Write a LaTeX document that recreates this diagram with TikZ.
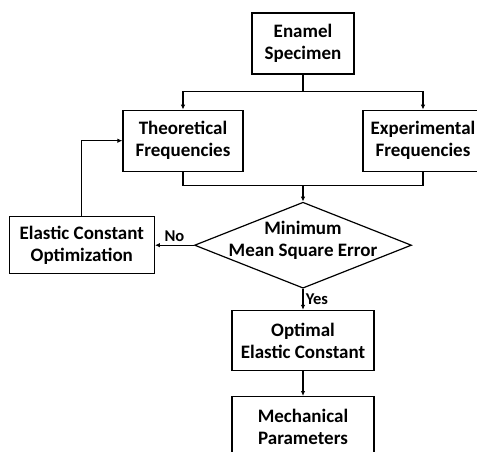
\documentclass[tikz,border=0pt]{standalone}
\usepackage{fontspec}
\setmainfont{Carlito}
\usetikzlibrary{positioning,arrows.meta,shapes.geometric,calc}
\tikzset{
  >={Latex[length=5pt,width=4.5pt]},
  block/.style={draw,line width=1.2pt,rectangle,align=center,inner sep=0pt,
    minimum width=120pt,minimum height=61pt},
  decision/.style={draw,line width=1.2pt,diamond,aspect=2.52,inner sep=0pt,
    minimum width=217pt,minimum height=86pt},
  connect/.style={line width=1.1pt},
  connect arrow/.style={->,line width=1.1pt},
  tag/.style={font=\fontsize{16.5}{19}\selectfont\bfseries}
}

\begin{document}
\begin{tikzpicture}[font=\fontsize{19}{22}\selectfont\bfseries]
  \useasboundingbox (0,0) rectangle (477pt,-451pt);

  % Specimen and the two frequency sets
  \node[block, minimum width=102pt] (spec) at (303pt,-43.5pt) {Enamel\\Specimen};
  \node[block, below=35pt of spec, xshift=-120pt] (theo) {Theoretical\\Frequencies};
  \node[block, below=35pt of spec, xshift=120pt] (expt) {Experimental\\Frequencies};

  % Error check
  \node[decision, below=127pt of spec] (mmse) {};
  \node[align=center, yshift=5pt] (mmsetxt) at (mmse) {Minimum\\Mean Square Error};

  % Optimization loop and results
  \node[block, minimum width=145pt, minimum height=57pt, left=39pt of mmse] (eco) {Elastic Constant\\Optimization};
  \node[block, minimum width=142pt, minimum height=60pt, below=21pt of mmse] (opt) {Optimal\\Elastic Constant};
  \node[block, minimum width=142pt, minimum height=60pt, below=25pt of opt] (mech) {Mechanical\\Parameters};

  % Specimen -> frequencies
  \coordinate (split) at ($(spec.south)+(0,-17pt)$);
  \draw[connect] (spec.south) -- (split);
  \draw[connect arrow] (split) -| (theo.north);
  \draw[connect arrow] (split) -| (expt.north);

  % Frequencies -> error check
  \coordinate (merge) at ($(mmse.north)+(0,16pt)$);
  \draw[connect] (theo.south) |- (merge) -| (expt.south);
  \draw[connect arrow] (merge) -- (mmse.north);

  % Decision branches
  \draw[connect arrow] (mmse.west) -- node[tag,above] {No} (eco.east);
  \draw[connect arrow] (eco.north) |- (theo.west);
  \draw[connect arrow] (mmse.south) -- node[tag,right,xshift=-1pt] {Yes} (opt.north);
  \draw[connect arrow] (opt.south) -- (mech.north);

\end{tikzpicture}
\end{document}
